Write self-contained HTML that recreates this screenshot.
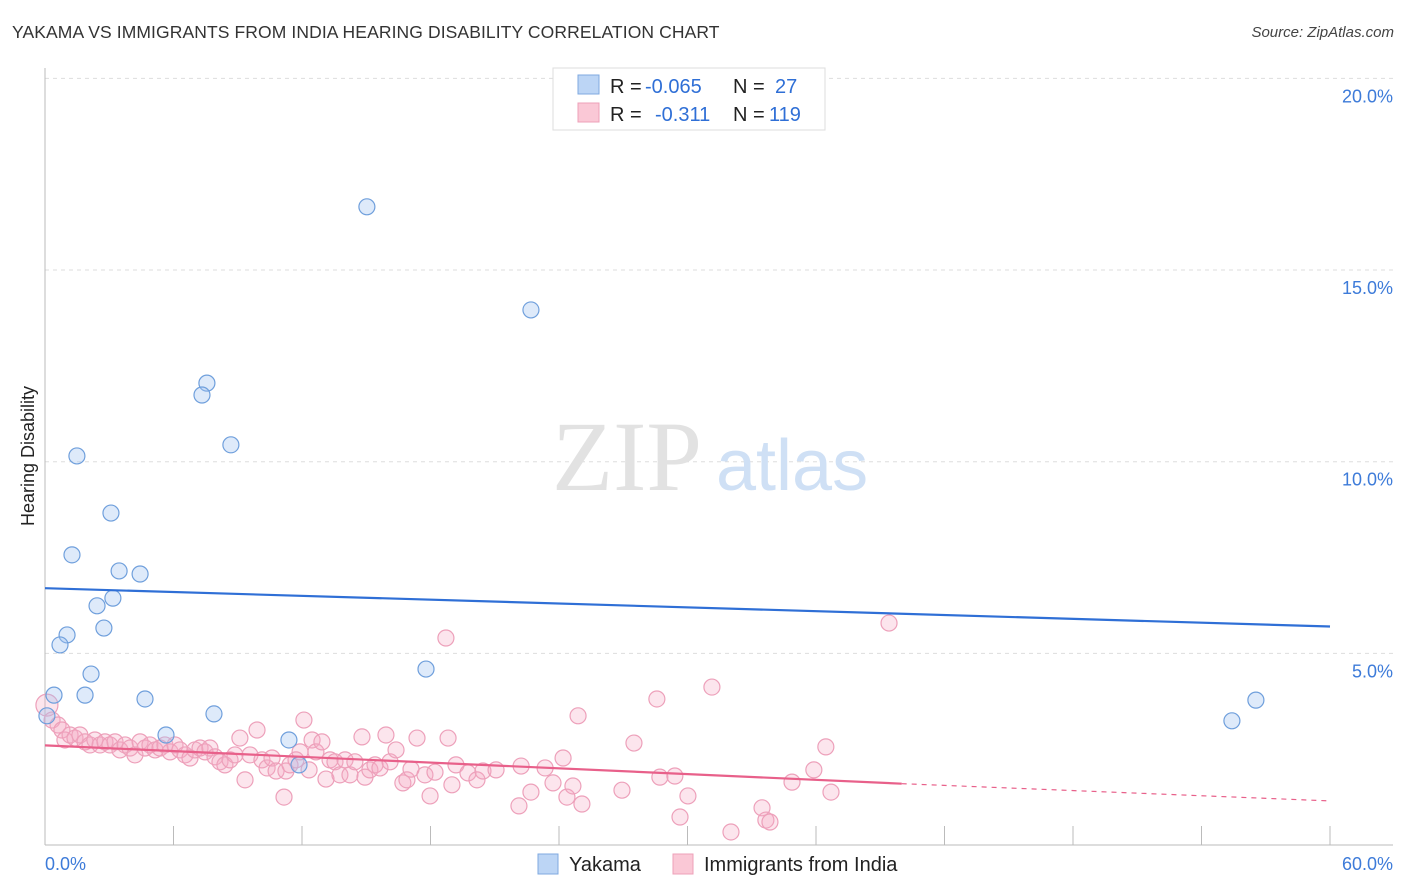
<!DOCTYPE html>
<html><head><meta charset="utf-8">
<style>
body{margin:0;background:#fff;font-family:"Liberation Sans",sans-serif;}
#wrap{position:relative;width:1406px;height:892px;overflow:hidden;}
.title{position:absolute;left:12px;top:22px;font-size:17.5px;color:#333;letter-spacing:0.1px}
.source{position:absolute;right:12px;top:24px;font-size:15px;color:#444;font-style:italic}
</style></head><body>
<div id="wrap">
<div class="title">YAKAMA VS IMMIGRANTS FROM INDIA HEARING DISABILITY CORRELATION CHART</div>
<div class="source">Source: ZipAtlas.com</div>
<svg id="svg" width="1406" height="892" style="position:absolute;left:0;top:0"></svg>
</div>
<script>
const xTicks=[0,6,12,18,24,30,36,42,48,54,60];
const yTicks=[5,10,15,20];
const yTickLabels=["5.0%","10.0%","15.0%","20.0%"];
const blueX=[15.03,22.69,7.56,7.33,8.68,1.49,3.08,1.26,3.46,4.44,2.43,3.17,2.75,1.03,0.70,2.15,17.79,1.87,4.67,0.42,7.89,5.65,11.39,11.86,55.42,56.54,0.09];
const blueY=[16.65,13.96,12.05,11.74,10.44,10.15,8.66,7.57,7.15,7.07,6.24,6.44,5.66,5.48,5.22,4.46,4.59,3.91,3.81,3.91,3.42,2.87,2.74,2.09,3.24,3.78,3.37];
const pinkX=[0.09,0.33,0.61,0.79,0.93,1.17,1.40,1.63,1.87,2.10,2.33,2.57,2.80,3.03,3.27,3.50,3.74,3.97,4.20,4.44,4.67,4.90,5.14,5.37,5.60,5.84,6.07,6.30,6.54,6.77,7.00,7.24,7.47,7.70,7.94,8.17,8.40,8.64,8.87,9.10,9.34,9.57,9.90,10.13,10.37,10.60,10.79,11.16,11.25,11.44,11.72,11.91,12.09,12.33,12.47,12.65,12.93,13.12,13.31,13.54,13.77,14.01,14.24,14.47,14.80,14.94,15.17,15.41,15.64,15.92,16.11,16.39,16.71,16.90,17.09,17.37,17.74,17.98,18.21,18.72,18.82,19.00,19.19,19.75,20.17,20.45,21.06,22.13,22.23,22.69,23.35,23.72,24.19,24.37,24.65,24.89,25.07,26.94,27.50,28.57,28.71,29.41,29.65,30.02,31.14,32.03,33.48,33.66,33.85,34.88,35.90,36.46,36.70,39.41];
const pinkY=[3.65,3.26,3.13,3.00,2.74,2.87,2.79,2.87,2.69,2.61,2.74,2.61,2.69,2.61,2.69,2.48,2.61,2.53,2.35,2.69,2.53,2.61,2.48,2.53,2.61,2.43,2.61,2.48,2.35,2.27,2.48,2.53,2.43,2.53,2.30,2.17,2.09,2.22,2.35,2.79,1.70,2.35,3.00,2.22,2.01,2.27,1.93,1.25,1.93,2.09,2.22,2.43,3.26,1.96,2.74,2.43,2.69,1.72,2.22,2.17,1.83,2.22,1.83,2.17,2.82,1.77,1.96,2.09,2.01,2.87,2.17,2.48,1.62,1.70,1.98,2.79,1.83,1.28,1.90,5.40,2.79,1.57,2.09,1.88,1.70,1.93,1.96,1.02,2.06,1.38,2.01,1.62,2.27,1.25,1.54,3.37,1.07,1.43,2.66,3.81,1.77,1.80,0.73,1.28,4.12,0.34,0.97,0.65,0.60,1.64,1.96,2.56,1.38,5.79];
const blueLine=[6.7,5.7];
const pinkLine=[2.6,1.6,1.15];
const pinkSolidEnd=40;

const X=v=>45+v*(1285/60);
const Y=v=>845-v*38.33;
const svg=document.getElementById('svg');
const NS='http://www.w3.org/2000/svg';
function mk(t,a){const e=document.createElementNS(NS,t);for(const k in a)e.setAttribute(k,a[k]);svg.appendChild(e);return e;}

yTicks.forEach((t,i)=>{
  const g=mk('line',{x1:45,x2:1393,y1:Y(t),y2:Y(t),stroke:'#ddd','stroke-dasharray':'4,4'});
  
  
  const l=mk('text',{x:1393,y:Y(t)+24,'text-anchor':'end','font-size':'18',fill:'#3d7bd9'});
  l.textContent=yTickLabels[i];
  
  
});
const ya=mk('line',{x1:45,x2:45,y1:68,y2:845,stroke:'#bbb'});


const xa=mk('line',{x1:45,x2:1393,y1:845,y2:845,stroke:'#bbb'});


xTicks.forEach(t=>{
  const k=mk('line',{x1:X(t),x2:X(t),y1:826,y2:845,stroke:'#bbb'});
  
  
});
const x0=mk('text',{x:45,y:870,'font-size':'18',fill:'#3d7bd9'});x0.textContent='0.0%';


const x1=mk('text',{x:1393,y:870,'font-size':'18',fill:'#3d7bd9','text-anchor':'end'});x1.textContent='60.0%';


const yt=mk('text',{x:34,y:456,'font-size':'18',fill:'#222','text-anchor':'middle',transform:'rotate(-90 34 456)'});yt.textContent='Hearing Disability';


const wm=mk('text',{x:552,y:490,'font-size':'100','font-family':'Liberation Serif,serif',fill:'#e2e2e2'});wm.textContent='ZIP';


const wm2=mk('text',{x:716,y:490,'font-size':'72',fill:'#cfe0f5'});wm2.textContent='atlas';



pinkX.forEach((x,i)=>{
  const c=mk('circle',{cx:X(x),cy:Y(pinkY[i]),r:i===0?11:8,fill:'rgba(244,170,195,0.3)',stroke:'#eda0ba','stroke-width':1.2});
  
  
});
blueX.forEach((x,i)=>{
  const c=mk('circle',{cx:X(x),cy:Y(blueY[i]),r:8,fill:'rgba(160,196,240,0.35)',stroke:'#6f9fdc','stroke-width':1.2});
  
  
});
const bl=mk('line',{x1:X(0),y1:Y(blueLine[0]),x2:X(60),y2:Y(blueLine[1]),stroke:'#2f6fd6','stroke-width':2.2});


const pl=mk('line',{x1:X(0),y1:Y(pinkLine[0]),x2:X(pinkSolidEnd),y2:Y(pinkLine[1]),stroke:'#e8608a','stroke-width':2.2});


const pd=mk('line',{x1:X(pinkSolidEnd),y1:Y(pinkLine[1]),x2:X(60),y2:Y(pinkLine[2]),stroke:'#e8608a','stroke-width':1.2,'stroke-dasharray':'5,5'});



const lb=mk('rect',{x:553,y:68,width:272,height:62,fill:'#fff',stroke:'#ddd'});


const s1=mk('rect',{x:578,y:75,width:21,height:19,fill:'#bcd5f5',stroke:'#7fa9e0'});


const s2=mk('rect',{x:578,y:103,width:21,height:19,fill:'#fac8d6',stroke:'#eea0b8'});


function txt(x,y,s,fill,name,anchor){const t=mk('text',{x:x,y:y,'font-size':'20',fill:fill,'text-anchor':anchor||'start'});t.textContent=s;

return t;}
txt(610,93,'R =','#222','legend-r-label');
txt(645,93,'-0.065','#2f6fd6','legend-r-yakama');
txt(733,93,'N =','#222','legend-n-label');
txt(775,93,'27','#2f6fd6','legend-n-yakama');
txt(610,121,'R =','#222','legend-r-label');
txt(655,121,'-0.311','#2f6fd6','legend-r-india');
txt(733,121,'N =','#222','legend-n-label');
txt(769,121,'119','#2f6fd6','legend-n-india');

const b1=mk('rect',{x:538,y:854,width:20,height:20,fill:'#bcd5f5',stroke:'#7fa9e0'});


txt(569,871,'Yakama','#222','bottom-legend-yakama');
const b2=mk('rect',{x:673,y:854,width:20,height:20,fill:'#fac8d6',stroke:'#eea0b8'});


txt(704,871,'Immigrants from India','#222','bottom-legend-india');
</script>
</body></html>
